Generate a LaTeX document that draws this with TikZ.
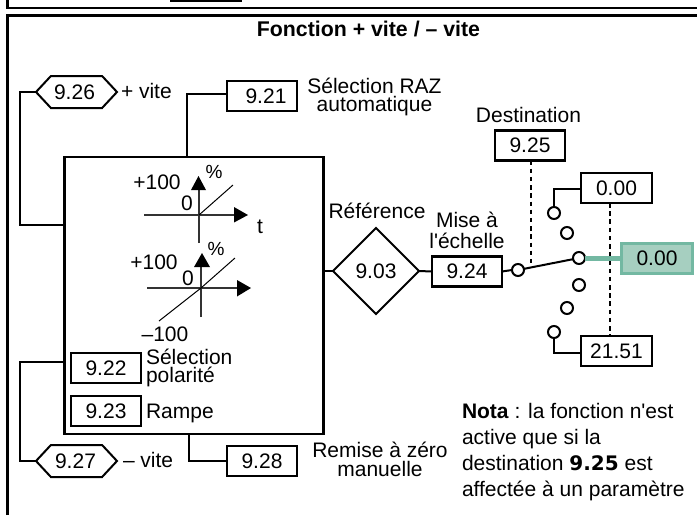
\documentclass[tikz,border=0pt]{standalone}
\usepackage{fontspec}
\setmainfont{Liberation Sans}
\newfontfamily\blackfont{DejaVu Sans}
\newfontfamily\plainfont{Liberation Sans}
\usetikzlibrary{shapes.geometric,shapes.symbols}
\definecolor{tealfill}{HTML}{A6CFC0}
\definecolor{tealline}{HTML}{73B8A2}
\tikzset{
  every node/.style={font=\fontsize{21}{18}\selectfont,inner sep=0pt,outer sep=0pt},
  wire/.style={line width=2pt,line join=miter},
  parambox/.style={draw,line width=2.2pt,minimum width=70pt,minimum height=30pt},
  hexbox/.style={draw,line width=2pt,signal,signal to=west and east,signal pointer angle=94,minimum width=81pt,minimum height=32pt},
  pin/.style={draw,circle,line width=2pt,minimum size=12pt,fill=white},
  dashwire/.style={line width=2pt,dash pattern=on 4.5pt off 3.7pt},
  axis/.style={line width=1.2pt,black!80},
  curve/.style={line width=1pt},
  tiptri/.style={fill=black},
  lbl/.style={anchor=base west},
}
\begin{document}
\begin{tikzpicture}[x=1pt,y=-1pt]
\useasboundingbox (0,0) rectangle (697,515);
% frames
\fill[black] (170,0) rectangle (242,2);
\draw[line width=2.4pt] (7.5,0) -- (7.5,8) -- (697,8);
\draw[line width=2.2pt] (7.5,515) -- (7.5,15.5) -- (697,15.5);
\node[font=\fontsize{21.3}{18}\selectfont\bfseries] (title) at (368.5,29) {Fonction + vite / – vite};
% main box
\node[draw,line width=2.2pt,minimum width=259pt,minimum height=277pt] (main) at (194,295.5) {};
% hexes
\node[hexbox] (h26) at (76.5,92) {9.26\hspace*{4pt}};
\node[hexbox] (h27) at (76.5,461) {9.27\hspace*{2pt}};
\node[lbl] (lplus) at (121,98) {+ vite};
\node[lbl] (lminus) at (123,467) {– vite};
% param boxes
\node[parambox] (b21) at (262,96) {\hspace*{8pt}9.21};
\node[parambox] (b28) at (262,461) {9.28};
\node[parambox] (b22) at (106,368) {9.22};
\node[parambox] (b23) at (106,411) {9.23};
\node[parambox] (b24) at (467,271.5) {9.24};
\node[parambox] (b25) at (530,145.5) {9.25};
\node[parambox,minimum width=71pt] (b000) at (616.5,188) {0.00};
\node[parambox,minimum width=71pt] (b2151) at (616.5,351) {21.51};
\node[draw=tealline,fill=tealfill,line width=2.2pt,minimum width=71pt,minimum height=30pt] (out) at (657,258.5) {0.00};
\node[draw,diamond,line width=2pt,minimum width=86pt,minimum height=86pt] (d903) at (376,271) {9.03};
% labels
\node[align=center,font=\fontsize{21}{18}\selectfont] (lraz) at (374.5,97) {Sélection RAZ\\automatique};
\node[align=left,anchor=west,font=\fontsize{21}{18}\selectfont] (lpol) at (146,368) {Sélection\\polarité};
\node[lbl] (lramp) at (146,418) {Rampe};
\node[align=center,font=\fontsize{21}{18.5}\selectfont] (lrem) at (380,459.5) {Remise à zéro\\manuelle};
\node[anchor=base] (lref) at (377,218) {Référence};
\node[align=center,font=\plainfont\fontsize{21}{21}\selectfont] (lech) at (467,230.5) {Mise à\\l'échelle};
\node[anchor=base] (ldest) at (528.5,122) {Destination};
\node[align=left,anchor=west,font=\plainfont\fontsize{21}{26}\selectfont] (nota) at (462,452) {\textbf{Nota} : la fonction n'est\\active que si la\\destination {\blackfont\bfseries\fontsize{20}{26}\selectfont 9.25} est\\affectée à un paramètre};
% graph 1
\coordinate (o1) at (199,215);
\draw[axis] (144,215) -- (236,215);
\draw[axis] (199,243) -- (199,188);
\draw[curve] (o1) -- (233,185);
\fill[tiptri] (234,207) -- (248,215) -- (234,222.5) -- cycle;
\fill[tiptri] (191,190) -- (198.5,176) -- (206,190) -- cycle;
\node (g1a) at (157,182) {+100};
\node (g1b) at (187,203) {0};
\node[font=\fontsize{19}{18}\selectfont] (g1c) at (214,172) {\%};
\node (g1d) at (260,227) {t};
% graph 2
\coordinate (o2) at (201,288);
\draw[axis] (147,288) -- (238,288);
\draw[axis] (201,317) -- (201,266);
\draw[curve] (159,321) -- (o2) -- (235,258);
\fill[tiptri] (237,280) -- (251,288) -- (237,296.5) -- cycle;
\fill[tiptri] (194,267) -- (202,253) -- (210,267) -- cycle;
\node (g2a) at (154,262) {+100};
\node (g2b) at (188,278) {0};
\node[font=\fontsize{19}{18}\selectfont] (g2c) at (216,249) {\%};
\node (g2d) at (165,334) {–100};
% connectors
\draw[wire] (h26.west) -- (20,92) -- (20,225) -- (main.west |- 0,225);
\draw[wire] (b21.west |- 0,94) -- (187,94) -- (187,157);
\draw[wire] (main.west |- 0,362) -- (20,362) -- (20,461) -- (h27.west);
\draw[wire] (189,434) -- (189,461) -- (b28.west);
\draw[wire] (main.east |- d903.west) -- (d903.west);
\draw[wire] (d903.east) -- (b24.west);
% selector
\node[pin] (p0) at (518,270) {};
\node[pin] (p1) at (554,213) {};
\node[pin] (p2) at (567,233) {};
\node[pin] (p3) at (579,258) {};
\node[pin] (p4) at (579,285) {};
\node[pin] (p5) at (567,308) {};
\node[pin] (p6) at (554,332) {};
\draw[wire] (b24.east) -- (p0.west);
\draw[wire] (p0) -- (p3);
\draw[wire] (b000.west |- 0,189) -- (554,189) -- (p1.north);
\draw[wire] (b2151.west |- 0,353) -- (554,353) -- (p6.south);
\draw[dashwire] (b25.south -| 531,0) -- (531,263);
\draw[dashwire] (610,203) -- (610,336);
\draw[tealline,line width=5pt] (p3.east) -- (out.west |- p3.east);
\end{tikzpicture}
\end{document}
